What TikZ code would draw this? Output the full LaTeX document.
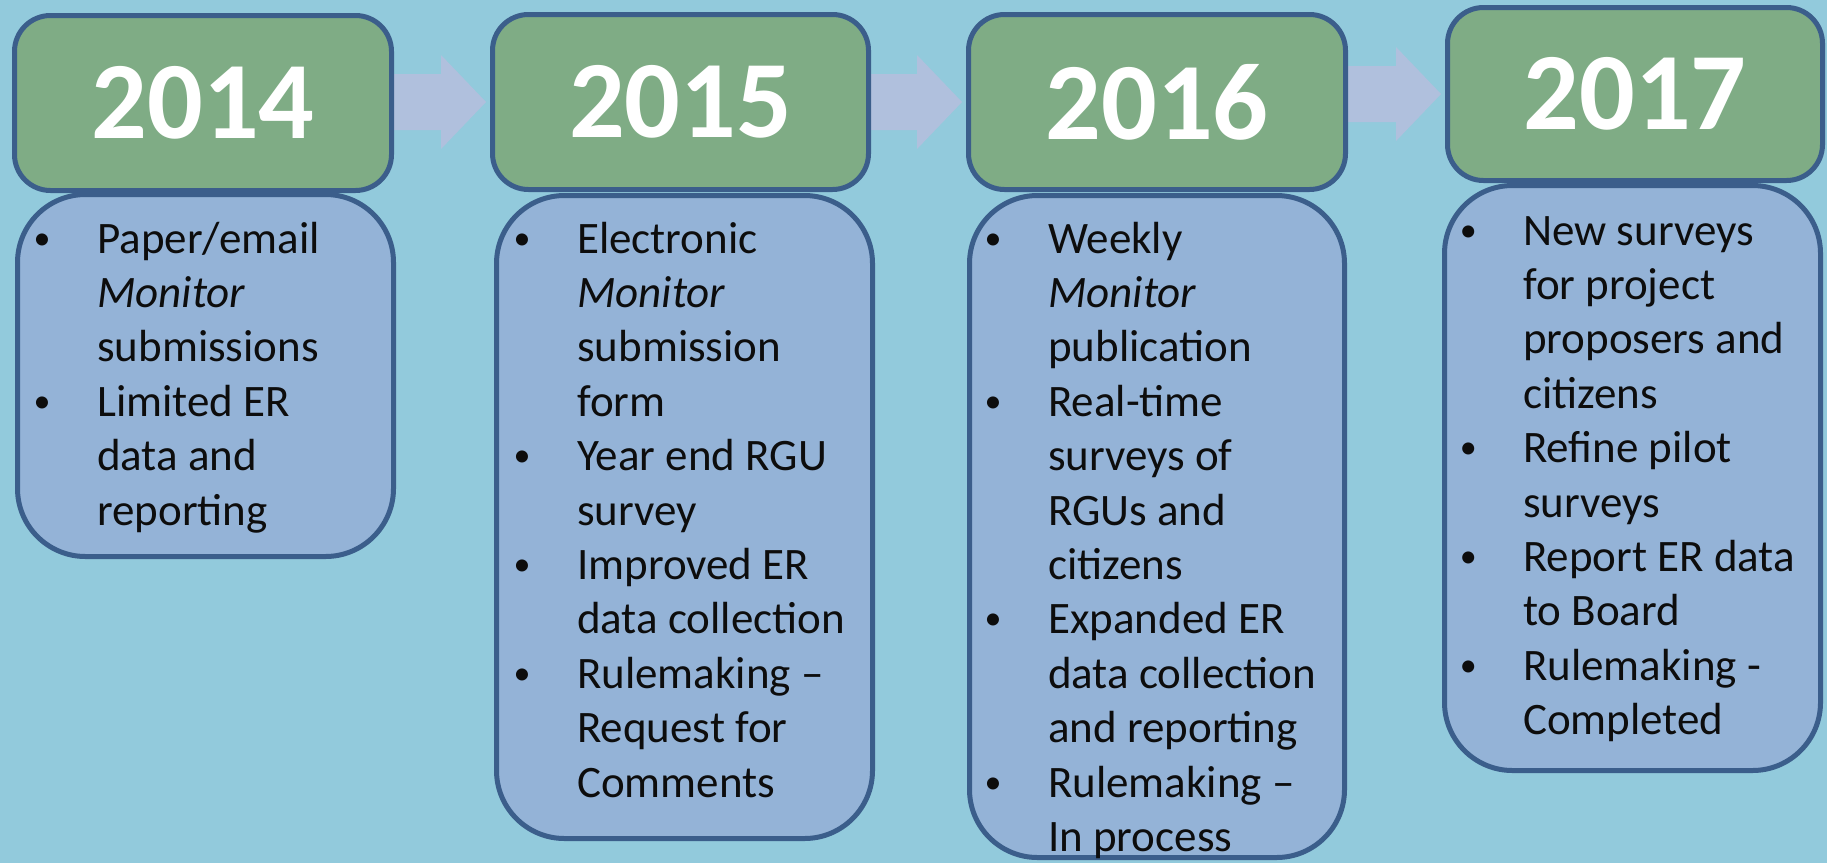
\documentclass[tikz,border=0pt]{standalone}
\usepackage{fontspec}
\setmainfont{Carlito}
\usetikzlibrary{calc}

\definecolor{bgcol}{HTML}{92CADC}
\definecolor{yearfill}{HTML}{7FAC85}
\definecolor{edgecol}{HTML}{3B5E8B}
\definecolor{bodyfill}{HTML}{94B3D7}
\definecolor{arrowfill}{HTML}{B0C0DD}
\definecolor{inkcol}{HTML}{0D0D0D}

% bullet hanging in the left margin of a line
\newcommand\bul{\llap{\makebox[22pt]{\raisebox{4pt}{\fontsize{34}{0}\selectfont\textbullet}}\hskip 44pt}}
% stacked lines with a fixed pitch; the box baseline is the first line
\newcommand\itemlines[1]{\vtop{\baselineskip=54.4pt\lineskiplimit=-1000pt\lineskip=0pt
  \halign{##\hfil\cr#1\crcr}}}
% broad block arrow from one year header to the next
\newcommand\steparrow[2]{%
  \fill[arrowfill] let \p1=(#1.east), \p2=(#2.west) in
    (\x1-10pt,\y2+28pt) -- (\x2-49pt,\y2+28pt) -- (\x2-49pt,\y2+47pt) -- (\x2-4pt,\y2)
    -- (\x2-49pt,\y2-47pt) -- (\x2-49pt,\y2-28pt) -- (\x1-10pt,\y2-28pt) -- cycle;}

\tikzset{
  yearbox/.style={draw=edgecol, line width=5pt, fill=yearfill, rounded corners=36pt,
    minimum width=377pt, minimum height=175pt, inner sep=0pt, text=white,
    font=\fontsize{110}{120}\selectfont\bfseries},
  bodybox/.style={draw=edgecol, line width=5pt, fill=bodyfill, rounded corners=68pt,
    minimum width=376pt, inner sep=0pt},
  itemtext/.style={anchor=base west, inner sep=0pt, text=inkcol,
    font=\fontsize{45}{54.4}\selectfont}
}

\begin{document}
\begin{tikzpicture}[x=1pt, y=-1pt]
\fill[bgcol] (0,0) rectangle (1827,863);
\useasboundingbox (0,0) rectangle (1827,863);

% body panels
\node[bodybox, minimum height=362pt] (b14) at (205.5,375.5) {};
\node[bodybox, minimum height=643pt] (b15) at (684.5,517) {};
\node[bodybox, minimum height=662pt, minimum width=375pt] (b16) at (1157,526.5) {};
\node[bodybox, minimum height=585pt] (b17) at (1632.5,478) {};

% year header outlines, used as anchors for the arrows
\path (203,103) coordinate (c14) (680.5,102) coordinate (c15)
      (1157,102) coordinate (c16) (1635,94) coordinate (c17);
\node[yearbox, opacity=0] (h14) at (c14) {};
\node[yearbox, opacity=0, minimum width=376pt] (h15) at (c15) {};
\node[yearbox, opacity=0] (h16) at (c16) {};
\node[yearbox, opacity=0, minimum width=375pt, minimum height=173pt] (h17) at (c17) {};

\steparrow{h14}{h15}
\steparrow{h15}{h16}
\steparrow{h16}{h17}

\node[yearbox] (y14) at (c14) {2014};
\node[yearbox, minimum width=376pt] (y15) at (c15) {2015};
\node[yearbox] (y16) at (c16) {2016};
\node[yearbox, minimum width=375pt, minimum height=173pt] (y17) at (c17) {2017};

% bullet texts
\node[itemtext] (t14) at (97,253) {\itemlines{%
  \bul Paper/email\cr
  \textit{Monitor}\cr
  submissions\cr
  \bul Limited ER\cr
  data and\cr
  reporting}};

\node[itemtext] (t15) at (577,253) {\itemlines{%
  \bul Electronic\cr
  \textit{Monitor}\cr
  submission\cr
  form\cr
  \bul Year end RGU\cr
  survey\cr
  \bul Improved ER\cr
  data collection\cr
  \bul Rulemaking –\cr
  Request for\cr
  Comments}};

\node[itemtext] (t16) at (1048,253) {\itemlines{%
  \bul Weekly\cr
  \textit{Monitor}\cr
  publication\cr
  \bul Real-time\cr
  surveys of\cr
  RGUs and\cr
  citizens\cr
  \bul Expanded ER\cr
  data collection\cr
  and reporting\cr
  \bul Rulemaking –\cr
  In process}};

\node[itemtext] (t17) at (1523,245) {\itemlines{%
  \bul New surveys\cr
  for project\cr
  proposers and\cr
  citizens\cr
  \bul Refine pilot\cr
  surveys\cr
  \bul Report ER data\cr
  to Board\cr
  \bul Rulemaking -\cr
  Completed}};
\end{tikzpicture}
\end{document}
